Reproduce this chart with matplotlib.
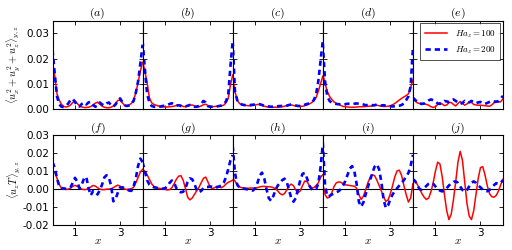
import numpy as np
import matplotlib
matplotlib.use('Agg')
import matplotlib.pyplot as plt

plt.rcParams['mathtext.fontset'] = 'cm'

# x positions shared by every panel (values read every 0.1)
x = np.linspace(0, 4, 41)

# top row: <ux^2+uy^2+uz^2>, values in units of 1e-3
red_a = [19, 13, 6, 3.5, 1.8, 1.0, 0.8, 1.0, 1.6, 2.6, 3.2, 2.2, 1.2, 0.8, 0.6, 0.6, 0.7, 1.0, 1.5, 2.3, 2.7,
         1.9, 1.1, 0.7, 0.5, 0.5, 0.7, 1.2, 2.2, 3.4, 3.5, 2.4, 1.5, 1.3, 1.6, 2.2, 3.5, 6.5, 10.5, 15, 18.5]
blue_a = [23.5, 14, 5, 1.8, 0.9, 0.8, 1.2, 2.2, 3.6, 4.0, 2.8, 1.2, 1.0, 2.0, 2.6, 1.8, 2.6, 2.9, 1.6, 0.9, 1.4,
          2.6, 1.8, 1.4, 2.2, 2.6, 1.5, 0.9, 1.8, 3.4, 4.2, 2.8, 1.5, 1.2, 1.4, 2.0, 3.2, 6.5, 11, 18, 25.5]
red_b = [19, 15, 10.5, 4.5, 2.5, 1.8, 1.5, 1.2, 0.9, 0.8, 0.8, 0.8, 0.9, 1.0, 1.1, 1.4, 1.6, 1.5, 1.0, 0.9, 1.2,
         1.5, 1.6, 1.2, 0.9, 0.9, 1.2, 1.7, 1.9, 1.4, 1.0, 0.9, 1.0, 1.1, 1.2, 1.3, 1.5, 2.5, 4.2, 9.5, 13.5]
blue_b = [27, 16, 6, 2.6, 1.2, 0.9, 0.9, 0.9, 1.0, 1.2, 1.4, 1.6, 2.0, 2.3, 1.8, 1.3, 1.5, 1.2, 0.9, 1.0, 1.3,
          1.6, 1.3, 0.9, 0.9, 1.2, 2.0, 3.2, 2.6, 1.1, 0.9, 0.9, 0.9, 1.0, 1.2, 1.4, 1.8, 3.0, 5.5, 17, 27]
red_c = [13, 7, 3.5, 2.2, 1.7, 1.5, 1.4, 1.3, 1.3, 1.4, 1.6, 1.8, 1.8, 1.5, 1.1, 0.9, 0.8, 0.7, 0.7, 0.7, 0.7,
         0.8, 0.9, 1.1, 1.4, 1.6, 1.6, 1.4, 1.2, 1.1, 1.0, 1.1, 1.3, 1.6, 2.0, 2.5, 3.3, 4.5, 7.0, 10, 13]
blue_c = [27, 7, 3.5, 2.4, 1.8, 1.6, 1.5, 1.5, 1.6, 1.7, 1.8, 1.9, 1.9, 1.6, 1.3, 1.1, 1.0, 0.9, 0.9, 1.0, 1.1,
          1.2, 1.2, 1.1, 1.3, 1.6, 1.8, 1.7, 1.4, 1.2, 1.2, 1.4, 1.7, 2.0, 2.2, 2.6, 3.5, 5.8, 11, 19, 27]
red_d = [14, 10, 7, 5, 3.8, 2.8, 2.2, 1.9, 1.4, 1.0, 0.9, 0.8, 0.7, 0.7, 0.7, 0.8, 0.9, 0.9, 0.9, 1.0, 1.1,
         1.1, 1.2, 1.4, 1.5, 1.3, 1.1, 1.0, 1.0, 1.1, 1.3, 1.7, 2.2, 2.9, 3.6, 4.2, 4.8, 5.3, 6.0, 8.5, 11.5]
blue_d = [26, 11, 5, 3.2, 2.5, 2.2, 2.0, 1.9, 1.9, 1.8, 1.9, 2.1, 2.0, 1.9, 2.1, 2.2, 2.1, 2.0, 1.8, 1.5, 1.6,
          1.8, 1.5, 1.5, 1.8, 1.6, 1.4, 1.5, 1.3, 1.2, 1.1, 1.0, 1.1, 1.2, 1.3, 1.6, 2.2, 3.5, 5.0, 9, 24]
red_e = [3.8, 3.2, 2.4, 2.2, 2.2, 2.1, 1.8, 1.5, 0.9, 0.6, 0.9, 1.8, 2.5, 2.0, 1.3, 1.6, 2.5, 2.6, 1.8, 1.2, 2.2,
         3.0, 2.2, 1.5, 2.0, 2.9, 2.6, 1.8, 1.6, 1.5, 1.5, 1.4, 1.3, 1.2, 1.1, 1.6, 2.4, 2.8, 2.7, 2.9, 4.0]
blue_e = [4.5, 3.6, 2.8, 2.2, 2.0, 2.2, 2.8, 3.4, 3.8, 3.5, 3.0, 2.2, 2.0, 2.6, 3.2, 3.0, 2.8, 3.4, 3.8, 3.2, 2.6,
          2.0, 2.4, 3.2, 2.6, 2.6, 3.2, 2.8, 2.3, 2.6, 2.8, 2.4, 2.0, 2.4, 2.8, 3.2, 3.0, 2.9, 3.2, 4.2, 5.2]

# bottom row: <uz T>, values in units of 1e-3
red_f = [10, 9.5, 6, 2.5, 0.5, 0, -0.2, 0, 0.6, 1.5, 2.1, 1.5, 0.6, 0, -0.3, -0.2, 0.3, 1.2, 2.0, 1.7, 0.8,
         0, -0.3, -0.3, 0, 0, 0.2, 0.8, 1.6, 2.2, 1.6, 0.6, 0, -0.2, 0, 0.3, 1.0, 3.5, 6.5, 9.5, 11]
blue_f = [15, 12, 6, 1.5, 0.5, 0.4, 0.2, 0.4, 1.0, 3.5, 6.3, 4.0, 0.5, 2.5, 6.0, 6.8, 0.5, -3.5, -1.0, -1.5, -3.0,
          -0.5, 2.5, 6.5, 7.7, 6.5, 2.0, -6.8, -5.5, -2.0, 0.8, 1.0, 0.5, 0, -0.8, -1.0, 1.5, 6.0, 13, 17, 15]
red_g = [11, 10, 8, 5.5, 3, 1.5, 0.8, 0.5, 0.3, 0.2, -0.2, -0.5, -0.3, 0.8, 3.0, 5.5, 7.2, 7.5, 5.0, 0.5, -4.5,
         -6.0, -5.0, -3.0, -1.0, 1.0, 3.5, 6.0, 6.7, 4.0, 1.0, 0.3, 0.8, 1.6, 1.2, 0.8, 1.5, 2.8, 3.8, 4.3, 5.0]
blue_g = [15, 10, 5, 2.5, 1.5, 1.0, 0.8, 0.5, 0.3, 0.2, 0.5, 1.5, 3.5, 4.8, 3.5, 0.5, -1.0, -1.8, -1.5, 0.5, 4.0,
          6.0, 5.5, 3.0, -0.5, -1.8, -1.0, 0.5, 1.2, 1.2, 1.5, 1.2, 0.8, 1.0, 1.5, 2.0, 3.5, 6.5, 11, 16, 19]
red_h = [6, 4.5, 2.5, 1.2, 0.8, 0.6, 0.5, 0.5, 0.6, 0.6, 0.6, 0.8, 1.2, 1.5, 1.5, 1.4, 1.3, 1.2, 0.8, 0.2, -1.0,
         -2.5, -3.2, -2.5, -0.5, 1.8, 2.8, 1.8, -0.5, -2.0, -1.0, 2.0, 4.5, 4.2, 2.0, 0.5, 0.8, 2.0, 3.5, 6.5, 8]
blue_h = [24, 9, 2.5, 0.8, 0.3, 0.2, 0.0, -0.3, -0.6, -0.8, 0.5, 3.5, 7.5, 9.2, 6.0, 0.0, -5.0, -6.5, -4.0, -0.5, 2.0,
          3.5, 5.0, 5.8, 4.0, -0.5, -5.0, -7.0, -5.0, 0.0, 5.0, 8.5, 9.0, 6.0, 2.0, 0.0, -0.5, 0.0, 3.0, 12, 25]
red_i = [3, -3, -5, -4.5, -2, 1.5, 3.5, 4.0, 3.8, 3.0, 2.4, 2.2, 2.0, 1.8, 1.6, 0.5, -3.0, -5.8, -4.0, -0.5, 3.5,
         6.5, 8.0, 7.5, 5.0, 2.0, -1.0, -4.5, -6.8, -6.0, -2.5, 2.0, 7.0, 10.2, 10.5, 7.5, 2.0, -3.0, -7.2, -5.0, 3.0]
blue_i = [26, 2, -4, -3.8, -3.0, -2.5, -1.8, -1.2, 0.0, 2.0, 4.5, 8.0, 11.5, 12.8, 10, 3, -7, -9.8, -7.5, -3, 1.0,
          5.0, 9.0, 12.5, 13.8, 11, 4, -6, -10.5, -9, -5.5, -3.0, -1.0, 0.5, 2.0, 3.5, 5.0, 7.0, 9.0, 13, 19]
red_j = [5, 4.5, 2.5, 0.0, -2.5, -4.5, -5.8, -5.0, -1.5, 3.5, 10, 15, 14, 7, -3, -12, -17, -14, -6, 4, 15,
         21, 16, 4, -8, -15, -17, -12, -3, 6, 12, 12.5, 8, 2, -2.5, -4.2, -4.5, -3.5, -1.0, 2.5, 5.5]
blue_j = [5.5, 4.5, 2.0, 0.0, -0.3, 0.5, 1.8, 3.0, 3.5, 3.0, 1.5, 0.0, -0.8, -1.3, -0.8, 0.5, 2.0, 3.2, 4.0, 4.3, 3.5,
          1.5, -0.5, -1.3, -0.5, 1.5, 3.5, 4.3, 3.5, 2.0, 1.0, -0.3, -1.0, -1.2, -0.5, 0.8, 2.2, 3.3, 3.0, 3.5, 5.0]

top_labels = ['(a)', '(b)', '(c)', '(d)', '(e)']
bottom_labels = ['(f)', '(g)', '(h)', '(i)', '(j)']
top_red = [red_a, red_b, red_c, red_d, red_e]
top_blue = [blue_a, blue_b, blue_c, blue_d, blue_e]
bottom_red = [red_f, red_g, red_h, red_i, red_j]
bottom_blue = [blue_f, blue_g, blue_h, blue_i, blue_j]


def style_axis(ax):
    ax.set_xlim(0, 4)
    ax.set_xticks([1, 3])
    ax.tick_params(direction='in', top=True, right=True, length=3, width=0.6,
                   labelsize=7.5, pad=2)
    for s in ax.spines.values():
        s.set_linewidth(0.8)


def main():
    fig = plt.figure(figsize=(5.12, 2.5), dpi=100)
    left = 52.5 / 512
    w = 90.1 / 512

    for k in range(5):
        ax = fig.add_axes([left + k * w, 0.564, w, 0.353])
        ax.plot(x, np.array(top_red[k]) * 1e-3, color='#ff0000', lw=1.1,
                label=r'$Ha_z=100$')
        ax.plot(x, np.array(top_blue[k]) * 1e-3, color='#0000ff', lw=1.9,
                dashes=(2, 1.5), label=r'$Ha_z=200$')
        style_axis(ax)
        ax.set_ylim(0, 0.035)
        ax.set_yticks([0, 0.01, 0.02, 0.03])
        ax.set_xticklabels([])
        ax.set_title(r'$' + top_labels[k] + '$', fontsize=8.5, pad=3)
        if k == 0:
            ax.set_yticklabels(['0.00', '0.01', '0.02', '0.03'])
            ax.set_ylabel(r'$\langle u_x^2+u_y^2+u_z^2\rangle_{y,z}$', fontsize=7.5)
            ax.yaxis.set_label_coords(-0.34, 0.5)
        else:
            ax.set_yticklabels([])
        if k == 4:
            leg = ax.legend(loc='upper right', fontsize=6.5, frameon=True, fancybox=False,
                            borderpad=0.5, handlelength=2.5, labelspacing=0.5,
                            borderaxespad=0.3)
            leg.get_frame().set_edgecolor('black')
            leg.get_frame().set_linewidth(0.6)

    for k in range(5):
        ax = fig.add_axes([left + k * w, 0.10, w, 0.359])
        ax.axhline(0, color='black', lw=0.8)
        ax.plot(x, np.array(bottom_red[k]) * 1e-3, color='#ff0000', lw=1.1)
        ax.plot(x, np.array(bottom_blue[k]) * 1e-3, color='#0000ff', lw=1.9,
                dashes=(2, 1.5))
        style_axis(ax)
        ax.set_ylim(-0.02, 0.03)
        ax.set_yticks([-0.02, -0.01, 0, 0.01, 0.02, 0.03])
        ax.set_xticklabels(['1', '3'])
        ax.set_xlabel(r'$x$', fontsize=8, labelpad=-1)
        ax.set_title(r'$' + bottom_labels[k] + '$', fontsize=8.5, pad=3)
        if k == 0:
            ax.set_yticklabels(['-0.02', '-0.01', '0.00', '0.01', '0.02', '0.03'])
            ax.set_ylabel(r'$\langle u_zT\rangle_{y,z}$', fontsize=7.5)
            ax.yaxis.set_label_coords(-0.34, 0.5)
        else:
            ax.set_yticklabels([])

    fig.savefig('out.png', dpi=100)


if __name__ == "__main__":
    main()
